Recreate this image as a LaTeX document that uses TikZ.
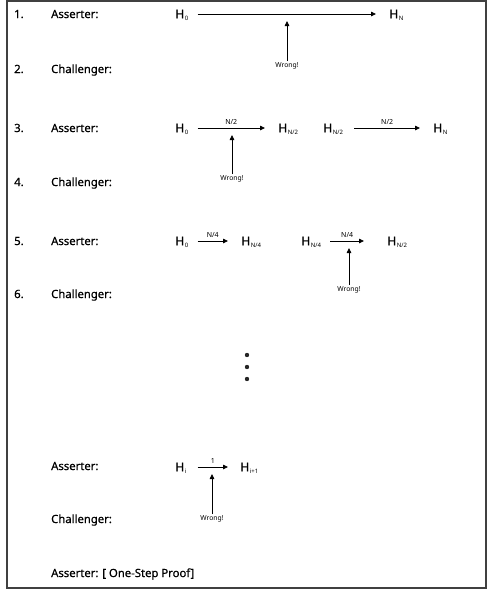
\documentclass[tikz,border=0pt]{standalone}
\usepackage{fontspec}
\setmainfont{Noto Sans}
\newfontfamily\medfont{Noto Sans}[FakeBold=0.6]
\newfontfamily\regfont{Noto Sans}
\usetikzlibrary{arrows.meta}
\newcommand\Hsub[1]{H\kern0.6pt\raisebox{-2.2pt}{\regfont\fontsize{6}{6}\selectfont #1}}
\begin{document}
\begin{tikzpicture}[x=1pt,y=-1pt,
  lbl/.style={anchor=base west,inner sep=0pt,font=\medfont\fontsize{11.3}{13}\selectfont},
  hn/.style={anchor=west,inner sep=0pt,inner xsep=1pt,text height=8.8pt,text depth=0pt,font=\medfont\fontsize{12.3}{14}\selectfont},
  wr/.style={anchor=north,inner sep=1pt,font=\fontsize{6.8}{7}\selectfont},
  stepnum/.style={font=\fontsize{7}{8}\selectfont,inner sep=1pt,anchor=south},
  arr/.style={line width=0.8pt,-{Triangle[length=5pt,width=4.5pt]}},
  dotn/.style={circle,fill=black!85,inner sep=0pt,minimum size=4.4pt}]
\useasboundingbox (0,0) rectangle (492,590);
\draw[line width=1.2pt,black!75] (7,1) rectangle (486,588);
% row labels
\node[lbl] (n1) at (14,18) {1.};
\node[lbl] (a1) at (51,18) {Asserter:};
\node[lbl] (n2) at (14,73) {2.};
\node[lbl] (c2) at (51,73) {Challenger:};
\node[lbl] (n3) at (14,132) {3.};
\node[lbl] (a3) at (51,132) {Asserter:};
\node[lbl] (n4) at (14,186) {4.};
\node[lbl] (c4) at (51,186) {Challenger:};
\node[lbl] (n5) at (14,245) {5.};
\node[lbl] (a5) at (51,245) {Asserter:};
\node[lbl] (n6) at (14,298) {6.};
\node[lbl] (c6) at (51,298) {Challenger:};
\node[lbl] (a7) at (51,470) {Asserter:};
\node[lbl] (c8) at (51,523) {Challenger:};
\node[lbl] (a9) at (51,577) {Asserter: [ One-Step Proof]};
% row 1
\node[hn] (r1a) at (174,14) {\Hsub{0}};
\node[hn] (r1b) at (388,14) {\Hsub{N}};
\draw[arr] ([xshift=8pt]r1a.east) -- ([xshift=-12pt]r1b.west);
\node[wr] (w1) at (287,61) {Wrong!};
\coordinate (t1) at (287,21);
\draw[arr] (w1.north) -- (t1);
% row 3
\node[hn] (r3a) at (174,128) {\Hsub{0}};
\node[hn] (r3b) at (277,128) {\Hsub{N/2}};
\node[hn] (r3c) at (322,128) {\Hsub{N/2}};
\node[hn] (r3d) at (432,128) {\Hsub{N}};
\draw[arr] ([xshift=8pt]r3a.east) -- node[stepnum,above=2pt] {N/2} ([xshift=-12pt]r3b.west);
\draw[arr] ([xshift=10pt]r3c.east) -- node[stepnum,above=2pt] {N/2} ([xshift=-12pt]r3d.west);
\node[wr] (w3) at (232,174) {Wrong!};
\coordinate (t3) at (232,135);
\draw[arr] (w3.north) -- (t3);
% row 5
\node[hn] (r5a) at (174,241) {\Hsub{0}};
\node[hn] (r5b) at (240,241) {\Hsub{N/4}};
\node[hn] (r5c) at (300,241) {\Hsub{N/4}};
\node[hn] (r5d) at (386,241) {\Hsub{N/2}};
\draw[arr] ([xshift=8pt]r5a.east) -- node[stepnum,above=2pt] {N/4} ([xshift=-12pt]r5b.west);
\draw[arr] ([xshift=8pt]r5c.east) -- node[stepnum,above=2pt] {N/4} ([xshift=-22pt]r5d.west);
\node[wr] (w5) at (349,285) {Wrong!};
\coordinate (t5) at (349,248);
\draw[arr] (w5.north) -- (t5);
% dots
\node[dotn] (d1) at (247,355) {};
\node[dotn] (d2) at (247,367) {};
\node[dotn] (d3) at (247,379) {};
% last rows
\node[hn] (r7a) at (174,467) {\Hsub{i}};
\node[hn] (r7b) at (239,467) {\Hsub{i+1}};
\draw[arr] ([xshift=10pt]r7a.east) -- node[stepnum,above=2pt] {1} ([xshift=-11pt]r7b.west);
\node[wr] (w7) at (212,514) {Wrong!};
\coordinate (t7) at (212,474);
\draw[arr] (w7.north) -- (t7);
\end{tikzpicture}
\end{document}
